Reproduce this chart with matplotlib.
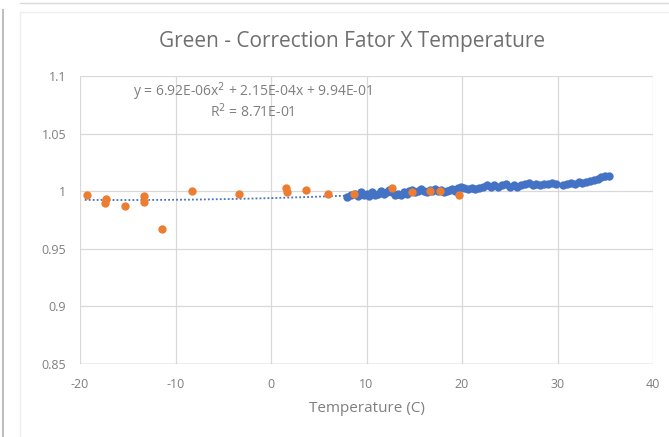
import numpy as np
import matplotlib
matplotlib.use("Agg")
import matplotlib.pyplot as plt
from matplotlib.lines import Line2D

plt.rcParams['font.family'] = ['Open Sans', 'DejaVu Sans']
plt.rcParams['axes.unicode_minus'] = False

# orange series
orange_x = [-19.3, -17.3, -17.4, -15.3, -13.3, -13.3, -11.4, -8.3, -3.4,
            1.6, 1.7, 3.7, 6.0, 8.7, 12.7, 14.8, 16.6, 17.7, 19.7]
orange_y = [0.997, 0.993, 0.990, 0.987, 0.996, 0.991, 0.967, 1.000, 0.998,
            1.003, 0.999, 1.001, 0.998, 0.998, 1.003, 0.999, 1.000, 1.000, 0.997]

# blue series
blue_x = [8.0, 8.4, 8.8, 9.1, 9.4, 9.7, 10.0, 10.3, 10.6, 10.9, 11.2, 11.5, 11.8,
          12.1, 12.4, 12.7, 13.0, 13.3, 13.6, 13.9, 14.2, 14.5, 14.8, 15.1, 15.4,
          15.7, 16.0, 16.3, 16.6, 16.9, 17.2, 17.5, 17.8, 18.1, 18.4, 18.7, 19.0,
          19.3, 19.6, 19.9, 20.2, 20.6, 21.0, 21.4, 21.8, 22.2, 22.6, 23.0, 23.4,
          23.8, 24.2, 24.6, 25.0, 25.4, 25.8, 26.2, 26.6, 27.0, 27.4, 27.8, 28.2,
          28.6, 29.0, 29.4, 29.8, 30.6, 31.0, 31.4, 31.8, 32.2, 32.6, 33.0, 33.4,
          33.8, 34.2, 34.6, 35.0, 35.4]
blue_y = [0.995, 0.997, 0.998, 0.996, 0.999, 0.997, 0.998, 0.996, 0.999, 0.997,
          0.998, 1.000, 0.998, 0.999, 1.001, 0.999, 0.997, 0.998, 0.997, 0.999,
          0.998, 1.000, 1.001, 0.999, 1.000, 1.002, 1.000, 0.999, 1.001, 1.000,
          1.002, 1.000, 1.001, 0.999, 1.000, 1.001, 1.002, 1.000, 1.003, 1.004,
          1.003, 1.002, 1.003, 1.002, 1.003, 1.004, 1.005, 1.004, 1.005, 1.004,
          1.005, 1.006, 1.004, 1.005, 1.004, 1.005, 1.006, 1.007, 1.005, 1.006,
          1.005, 1.006, 1.006, 1.007, 1.006, 1.005, 1.006, 1.007, 1.006, 1.008,
          1.007, 1.008, 1.009, 1.010, 1.011, 1.012, 1.013, 1.013]

# trendline coefficients (as shown on chart)
coef = [6.92e-06, 2.15e-04, 9.94e-01]
eq_text = "y = 6.92E-06x$^2$ + 2.15E-04x + 9.94E-01"
r2_text = "R$^2$ = 8.71E-01"

x_ticks = [-20, -10, 0, 10, 20, 30, 40]
y_ticks = [0.85, 0.9, 0.95, 1, 1.05, 1.1]
y_labels = ['0.85', '0.9', '0.95', '1', '1.05', '1.1']

fig = plt.figure(figsize=(6.69, 4.37), dpi=100)
fig.patch.set_facecolor('white')

# screenshot frame lines
fig.add_artist(Line2D([3/669, 3/669], [0, 1 - 10/437], color='#bfbfbf', lw=1.5))
fig.add_artist(Line2D([20/669, 1], [1 - 3/437, 1 - 3/437], color='#d9d9d9', lw=1))
fig.add_artist(Line2D([20/669, 20/669], [0, 1 - 12/437], color='#eeeeee', lw=1))
fig.add_artist(Line2D([20/669, 1], [1 - 12/437, 1 - 12/437], color='#eeeeee', lw=1))

ax = fig.add_axes([80/669, 1 - 364/437, 573/669, 288/437])
ax.set_xlim(-20, 40)
ax.set_ylim(0.85, 1.1)
ax.set_xticks(x_ticks)
ax.set_yticks(y_ticks)
ax.set_yticklabels(y_labels)
ax.grid(True, color='#d9d9d9', lw=0.9)
ax.set_axisbelow(True)
for s in ax.spines.values():
    s.set_visible(False)
ax.axhline(0.85, color='#bfbfbf', lw=1, zorder=1)
ax.tick_params(length=0, labelsize=9, colors='#7f7f7f', pad=10)

tx = np.linspace(-19.5, 35.5, 200)
ax.plot(tx, np.polyval(coef, tx), color='#4472C4', lw=1.3, ls=(0, (1, 1.2)), zorder=2)

ax.scatter(blue_x, blue_y, s=36, color='#4472C4', zorder=3, linewidths=0)
ax.scatter(orange_x, orange_y, s=36, color='#ED7D31', zorder=4, linewidths=0)

ax.text(-1.9, 1.0861, eq_text, ha='center', va='center', fontsize=10, color='#7f7f7f')
ax.text(-1.9, 1.0688, r2_text, ha='center', va='center', fontsize=10, color='#7f7f7f')

ax.set_xlabel('Temperature (C)', fontsize=11, color='#7f7f7f', labelpad=7)
fig.text(352/669, 1 - 42/437, 'Green - Correction Fator X Temperature',
         ha='center', va='center', fontsize=15, color='#6f6f6f')

fig.savefig('out.png', dpi=100)
